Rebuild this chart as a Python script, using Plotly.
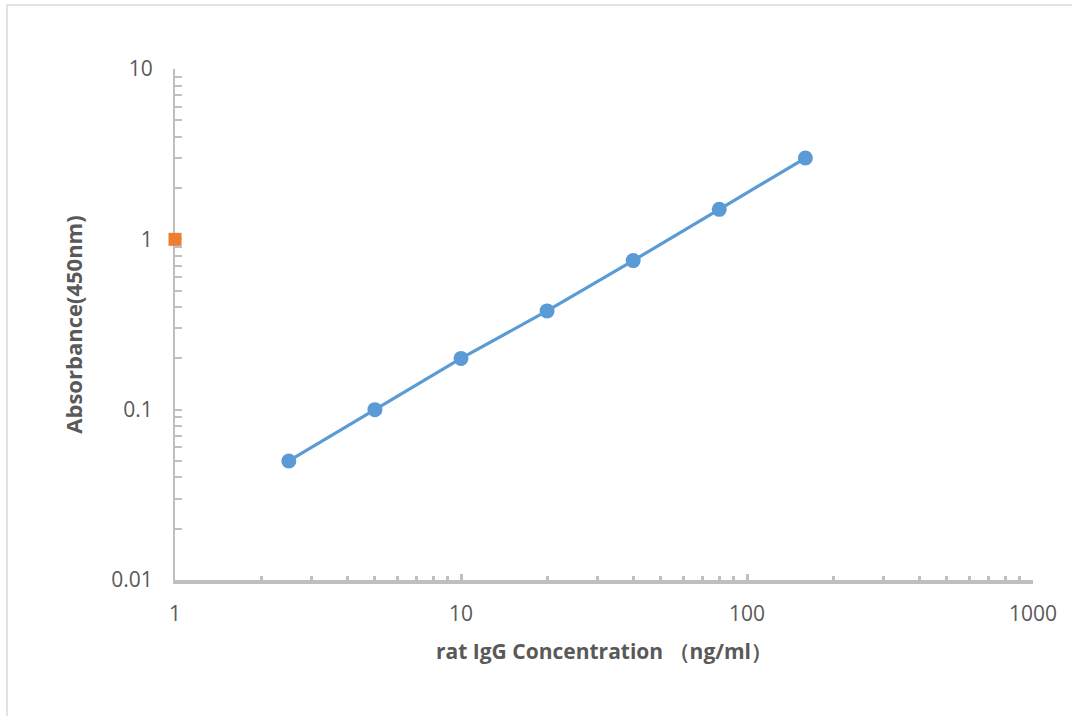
import plotly.graph_objects as go

conc = [2.5, 5, 10, 20, 40, 80, 160]
absorb = [0.05, 0.1, 0.2, 0.38, 0.75, 1.5, 3.0]
extra_x = [1]
extra_y = [1]

x_major = [1, 10, 100, 1000]
x_labels = ["1", "10", "100", "1000"]
y_major = [0.01, 0.1, 1, 10]
y_labels = ["0.01", "0.1", "1", "10"]

def minors(lo, hi):
    out = []
    d = lo
    while d < hi:
        for k in range(2, 10):
            out.append(k * d)
        d *= 10
    return out

W, H = 1072, 716
L, R, T, B = 175, 1033, 69, 580
pw, ph = R - L, B - T

fig = go.Figure()
fig.add_trace(go.Scatter(x=conc, y=absorb, mode="lines+markers",
                         line=dict(color="#5B9BD5", width=3.2),
                         marker=dict(color="#5B9BD5", size=15),
                         showlegend=False, cliponaxis=False))
fig.add_trace(go.Scatter(x=extra_x, y=extra_y, mode="markers",
                         marker=dict(color="#ED7D31", size=13, symbol="square"),
                         showlegend=False, cliponaxis=False))

fam = "Open Sans, Liberation Sans, sans-serif"
tickfont = dict(family=fam, size=21, color="#595959")
xtitlefont = dict(family=fam, size=21, color="#595959", weight="bold")
ytitlefont = dict(family=fam, size=22, color="#595959", weight="bold")

fig.update_xaxes(type="log", range=[0, 3], tickmode="array", tickvals=x_major, ticktext=x_labels,
                 showgrid=False, zeroline=False, showline=True, linecolor="#BFBFBF", linewidth=4,
                 ticks="inside", ticklen=6, tickwidth=3, tickcolor="#BFBFBF",
                 minor=dict(tickmode="array", tickvals=minors(1, 1000), ticks="inside",
                            ticklen=4, tickwidth=3, tickcolor="#BFBFBF", showgrid=False),
                 tickfont=tickfont, ticklabelstandoff=12, layer="below traces",
                 title=dict(text="rat IgG Concentration （ng/ml）", font=xtitlefont, standoff=19))
fig.update_yaxes(type="log", range=[-2, 1], tickmode="array", tickvals=y_major, ticktext=y_labels,
                 showgrid=False, zeroline=False, showline=True, linecolor="#BFBFBF", linewidth=2,
                 ticks="inside", ticklen=7, tickwidth=1.5, tickcolor="#BFBFBF",
                 minor=dict(tickmode="array", tickvals=minors(0.01, 10), ticks="inside",
                            ticklen=7, tickwidth=1.5, tickcolor="#BFBFBF", showgrid=False),
                 tickfont=tickfont, ticklabelstandoff=16, layer="below traces",
                 title=dict(text="Absorbance(450nm)", font=ytitlefont, standoff=23))

def px_to_paper_x(px):
    return (px - L) / pw

def px_to_paper_y(py):
    return (B - py) / ph

fig.add_shape(type="rect", xref="paper", yref="paper",
              x0=px_to_paper_x(7), x1=px_to_paper_x(1080),
              y0=px_to_paper_y(725), y1=px_to_paper_y(5),
              line=dict(color="#D9D9D9", width=1.5), fillcolor="rgba(0,0,0,0)", layer="below")

fig.update_layout(width=W, height=H, margin=dict(l=L, r=W - R, t=T, b=H - B),
                  plot_bgcolor="white", paper_bgcolor="white")

fig.write_html("out.html", config={"displayModeBar": False},
               post_script="document.body.style.margin='0';")
